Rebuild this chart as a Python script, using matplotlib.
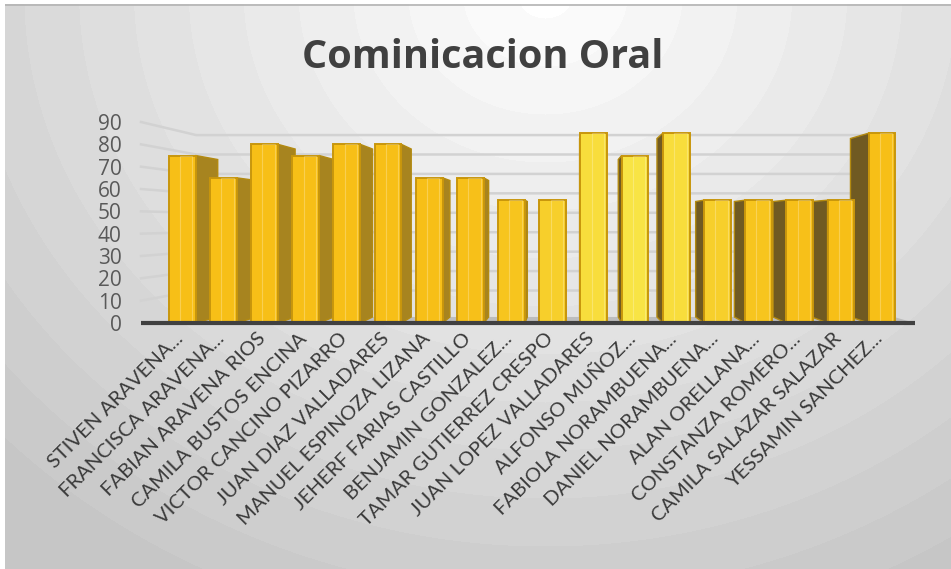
import numpy as np
import matplotlib
matplotlib.use("Agg")
import matplotlib.pyplot as plt
import matplotlib.transforms as mtransforms
from matplotlib.patches import Polygon
from matplotlib.colors import to_rgb

plt.rcParams.update({
    "font.family": ["Open Sans", "DejaVu Sans"],
})

# Scores per student (oral communication)
NAMES = [
    "STIVEN ARAVENA...", "FRANCISCA ARAVENA...", "FABIAN ARAVENA RIOS",
    "CAMILA BUSTOS ENCINA", "VICTOR CANCINO PIZARRO", "JUAN DIAZ VALLADARES",
    "MANUEL ESPINOZA LIZANA", "JEHERF FARIAS CASTILLO", "BENJAMIN GONZALEZ...",
    "TAMAR GUTIERREZ CRESPO", "JUAN LOPEZ VALLADARES", "ALFONSO MUÑOZ...",
    "FABIOLA NORAMBUENA...", "DANIEL NORAMBUENA...", "ALAN ORELLANA...",
    "CONSTANZA ROMERO...", "CAMILA SALAZAR SALAZAR", "YESSAMIN SANCHEZ...",
]
SCORES = [75, 65, 80, 75, 80, 80, 65, 65, 55, 55, 85, 75, 85, 55, 55, 55, 55, 85]
Y_TICKS = list(range(0, 100, 10))

TITLE = "Cominicacion Oral"

# fake 3-D perspective: vanishing point (data units) and depth factors
VP = (9.3, 45.0)
F_BAR = 0.94      # back face of the columns
F_WALL = 0.87     # back wall with the gridlines
BAR_W = 0.65
X_LEFT, X_RIGHT = -1.0, 17.8


def recede(x, y, f):
    return VP[0] + (x - VP[0]) * f, VP[1] + (y - VP[1]) * f


def mix(c1, c2, t):
    a, b = np.array(to_rgb(c1)), np.array(to_rgb(c2))
    return tuple(a + (b - a) * t)


fig = plt.figure(figsize=(9.51, 5.69), dpi=100)
fig.patch.set_facecolor("white")

# radial grey backdrop
bg = fig.add_axes([5 / 951, 0, 946 / 951, 565 / 569])
bg.set_axis_off()
h, w = 565, 946
yy, xx = np.mgrid[0:h, 0:w]
r = np.sqrt(((xx - 540) / 1.2) ** 2 + ((yy + 10) / 1.05) ** 2)
t = np.clip(r / 640, 0, 1)
t = np.round(t * 14) / 14
shade = 1.0 - 0.22 * t
bg.imshow(np.dstack([shade] * 3), aspect="auto", interpolation="bilinear",
          extent=(0, w, h, 0))
bg.plot([0, w], [0.5, 0.5], color="#b3b3b3", lw=1.2)
bg.set_xlim(0, w)
bg.set_ylim(h, 0)

ax = fig.add_axes([141 / 951, 1 - 323 / 569, 774 / 951, 201 / 569])
ax.patch.set_alpha(0)
ax.set_xlim(X_LEFT, X_RIGHT)
ax.set_ylim(0, 90)
for s in ax.spines.values():
    s.set_visible(False)

# back wall gridlines with the short left-wall segment
for v in Y_TICKS[1:]:
    bx, by = recede(X_LEFT, v, F_WALL)
    ex, ey = recede(X_RIGHT, v, F_WALL)
    ax.plot([X_LEFT, bx, ex], [v, by, ey], color="#d2d2d2", lw=1.8,
            zorder=1, clip_on=False)

# floor
fl = [(X_LEFT + 0.8, 0), (X_RIGHT, 0),
      recede(X_RIGHT, 0, F_BAR), recede(X_LEFT + 0.8, 0, F_BAR)]
ax.add_patch(Polygon(fl, closed=True, facecolor="#bdbdbd", edgecolor="none",
                     zorder=1.5))

x = np.arange(len(SCORES))

# side faces of the columns, turned toward the vanishing point
for xi, v in zip(x, SCORES):
    if xi < VP[0]:
        e = xi + BAR_W / 2
        col = "#a7841f"
    else:
        e = xi - BAR_W / 2
        col = "#705a22"
    pts = [(e, 0), (e, v), recede(e, v, F_BAR), recede(e, 0, F_BAR)]
    ax.add_patch(Polygon(pts, closed=True, facecolor=col, edgecolor="#b38a10",
                         lw=1.0, zorder=2))

# front faces, brighter near the light
light = np.exp(-((x - 11.0) / 2.2) ** 2)
faces = [mix("#f7bf17", "#f8e445", t) for t in light]
ax.bar(x, SCORES, width=BAR_W, color=faces, edgecolor="#c8960c", lw=1.4,
       zorder=3)
ax.bar(x + 0.1, SCORES, width=0.3, color="none",
       edgecolor=(1, 1, 1, 0.25), lw=0.8, zorder=3.5)

ax.plot([X_LEFT, X_RIGHT], [0, 0], color="#404040", lw=3, zorder=4,
        solid_capstyle="butt", clip_on=False)

ax.set_yticks(Y_TICKS)
ax.set_yticklabels([str(v) for v in Y_TICKS], fontsize=15, color="#595959")
ax.set_xticks(x)
ax.set_xticklabels(NAMES, rotation=45, ha="right", rotation_mode="anchor",
                   fontsize=14.5, color="#3a3a3a", family=["Lato", "DejaVu Sans"])
ax.tick_params(axis="y", length=0, pad=14)
ax.tick_params(axis="x", length=0, pad=5)

# nudge the slanted names so they end right under their column
shift = mtransforms.ScaledTranslation(-8 / 100, 0, fig.dpi_scale_trans)
for lbl in ax.get_xticklabels():
    lbl.set_transform(lbl.get_transform() + shift)

fig.text(0.508, 1 - 57 / 569, TITLE, ha="center", va="center", fontsize=28.5,
         fontweight="bold", color="#404040")

fig.savefig("out.png", dpi=100)
